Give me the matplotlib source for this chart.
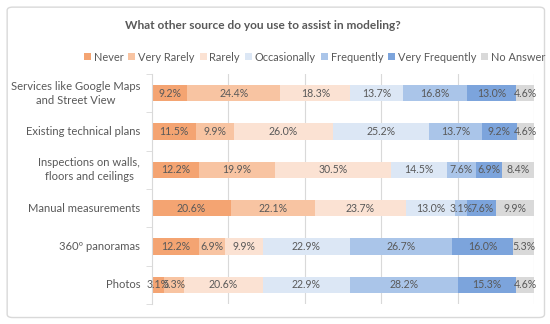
import matplotlib
matplotlib.use("Agg")
import matplotlib.pyplot as plt
import matplotlib.transforms as mtransforms
from matplotlib.patches import FancyBboxPatch
import numpy as np

plt.rcParams['font.family'] = ['Lato', 'DejaVu Sans']

categories = ["Services like Google Maps\nand Street View", "Existing technical plans",
              "Inspections on walls,\nfloors and ceilings", "Manual measurements",
              "360º panoramas", "Photos"]
series_names = ["Never", "Very Rarely", "Rarely", "Occasionally", "Frequently",
                "Very Frequently", "No Answer"]
never = [9.2, 11.5, 12.2, 20.6, 12.2, 3.1]
very_rarely = [24.4, 9.9, 19.9, 22.1, 6.9, 5.3]
rarely = [18.3, 26.0, 30.5, 23.7, 9.9, 20.6]
occasionally = [13.7, 25.2, 14.5, 13.0, 22.9, 22.9]
frequently = [16.8, 13.7, 7.6, 3.1, 26.7, 28.2]
very_frequently = [13.0, 9.2, 6.9, 7.6, 16.0, 15.3]
no_answer = [4.6, 4.6, 8.4, 9.9, 5.3, 4.6]
colors = ["#F4A472", "#F8C4A2", "#FBE2D3", "#DCE7F5", "#AAC5E9", "#7CA4DC", "#D9D9D9"]

data = [never, very_rarely, rarely, occasionally, frequently, very_frequently, no_answer]
txt = "#595959"

fig = plt.figure(figsize=(5.5, 3.24), dpi=100)
fig.patch.set_facecolor("white")
frame = FancyBboxPatch((0.013, 0.02), 0.977, 0.958, boxstyle="round,pad=0,rounding_size=0.01",
                       transform=fig.transFigure, facecolor="none", edgecolor="#D9D9D9",
                       linewidth=1.0, zorder=-10)
fig.patches.append(frame)

ax = fig.add_axes([0.2764, 0.0617, 0.9709 - 0.2764, 0.7716 - 0.0617])
ax.set_facecolor("none")
y = np.arange(len(categories))
left = np.zeros(len(categories))
handles = []
for name, vals, c in zip(series_names, data, colors):
    vals = np.array(vals)
    b = ax.barh(y, vals, left=left, height=0.42, color=c, label=name, zorder=2)
    handles.append(b)
    for yi, l, v in zip(y, left, vals):
        ax.text(l + v / 2, yi, f"{v:.1f}%", ha="center", va="center", fontsize=7.6,
                color=txt, zorder=3)
    left += vals

ax.set_xlim(0, 100)
ax.set_ylim(len(categories) - 0.5, -0.5)
ax.set_yticks(y)
ax.set_yticklabels([])
trans = mtransforms.blended_transform_factory(ax.transAxes, ax.transData)
for yi, cat in zip(y, categories):
    ax.text(-0.031, yi, cat, transform=trans, ha="right", va="center",
            multialignment="center", linespacing=1.3, fontsize=8.1, color=txt)
ax.set_yticks(np.arange(-0.5, len(categories), 1), minor=True)
ax.tick_params(axis="y", which="major", length=0)
ax.tick_params(axis="y", which="minor", length=4, color="#D9D9D9", direction="out")
ax.set_xticks([20, 40, 60, 80, 100])
ax.tick_params(axis="x", length=0, labelbottom=False)
ax.grid(axis="x", color="#D9D9D9", linewidth=0.8, zorder=0)
for s in ["top", "right", "bottom"]:
    ax.spines[s].set_visible(False)
ax.spines["left"].set_color("#D9D9D9")

fig.text(0.478, 0.922, "What other source do you use to assist in modeling?", ha="center",
         va="center", fontsize=8.6, fontweight="bold", color=txt)
fig.legend(handles=handles, labels=series_names, loc="center", bbox_to_anchor=(0.572, 0.824),
           ncol=7, frameon=False, fontsize=7.9, labelcolor=txt, handlelength=0.65,
           handleheight=0.65, handletextpad=0.25, columnspacing=0.45, borderpad=0)

fig.savefig("out.png", dpi=100)
